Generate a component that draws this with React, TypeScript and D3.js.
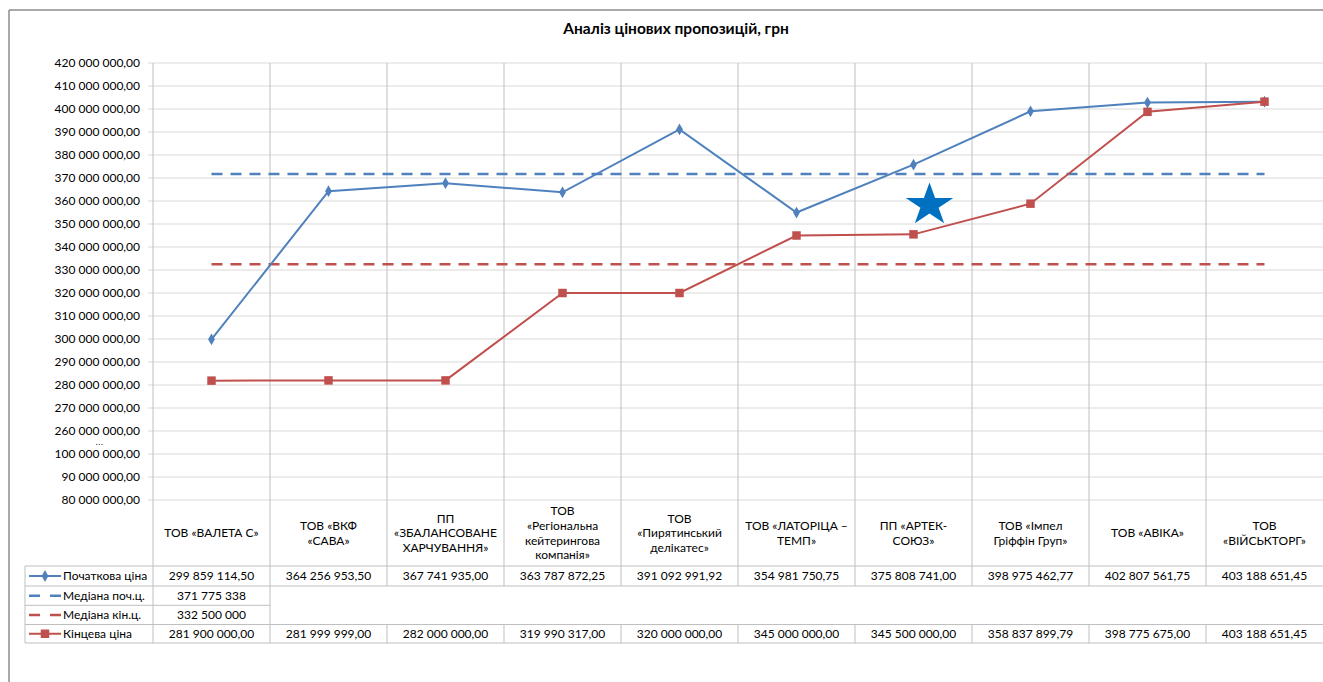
import React from 'react';
import * as d3 from 'd3';

const title = 'Аналіз цінових пропозицій, грн';

const categories: string[][] = [
  ['ТОВ «ВАЛЕТА С»'],
  ['ТОВ «ВКФ', '«САВА»'],
  ['ПП', '«ЗБАЛАНСОВАНЕ', 'ХАРЧУВАННЯ»'],
  ['ТОВ', '«Регіональна', 'кейтерингова', 'компанія»'],
  ['ТОВ', '«Пирятинський', 'делікатес»'],
  ['ТОВ «ЛАТОРІЦА –', 'ТЕМП»'],
  ['ПП «АРТЕК-', 'СОЮЗ»'],
  ['ТОВ «Імпел', 'Гріффін Груп»'],
  ['ТОВ «АВІКА»'],
  ['ТОВ', '«ВІЙСЬКТОРГ»'],
];

const initialPrice = [
  299859114.5, 364256953.5, 367741935.0, 363787872.25, 391092991.92,
  354981750.75, 375808741.0, 398975462.77, 402807561.75, 403188651.45,
];
const finalPrice = [
  281900000.0, 281999999.0, 282000000.0, 319990317.0, 320000000.0,
  345000000.0, 345500000.0, 358837899.79, 398775675.0, 403188651.45,
];
const initialLabels = [
  '299 859 114,50', '364 256 953,50', '367 741 935,00', '363 787 872,25', '391 092 991,92',
  '354 981 750,75', '375 808 741,00', '398 975 462,77', '402 807 561,75', '403 188 651,45',
];
const finalLabels = [
  '281 900 000,00', '281 999 999,00', '282 000 000,00', '319 990 317,00', '320 000 000,00',
  '345 000 000,00', '345 500 000,00', '358 837 899,79', '398 775 675,00', '403 188 651,45',
];

const medianInitial = 371775338;
const medianFinal = 332500000;
const medianInitialLabel = '371 775 338';
const medianFinalLabel = '332 500 000';

// broken axis: the last three rows stand for 100, 90, 80 mln
const yTickValues = [
  420e6, 410e6, 400e6, 390e6, 380e6, 370e6, 360e6, 350e6, 340e6, 330e6,
  320e6, 310e6, 300e6, 290e6, 280e6, 270e6, 260e6, 250e6, 240e6, 230e6,
];
const yTickLabels = [
  '420 000 000,00', '410 000 000,00', '400 000 000,00', '390 000 000,00', '380 000 000,00',
  '370 000 000,00', '360 000 000,00', '350 000 000,00', '340 000 000,00', '330 000 000,00',
  '320 000 000,00', '310 000 000,00', '300 000 000,00', '290 000 000,00', '280 000 000,00',
  '270 000 000,00', '260 000 000,00', '100 000 000,00', '90 000 000,00', '80 000 000,00',
];

const BLUE = '#4F81BD';
const RED = '#C0504D';
const GRID = '#D9D9D9';
const TABLE = '#BFBFBF';
const FONT = 'Lato, "Open Sans", sans-serif';

const App: React.FC = () => {
  const width = 1323;
  const height = 682;
  const left = 153;
  const right = 1323;
  const top = 63;
  const bottom = 500;

  const x = d3
    .scaleBand<number>()
    .domain(d3.range(categories.length))
    .range([left, right])
    .padding(0);
  const cx = (i: number) => (x(i) as number) + x.bandwidth() / 2;
  const y = d3.scaleLinear().domain([230e6, 420e6]).range([bottom, top]);

  const line = d3
    .line<number>()
    .x((_, i) => cx(i))
    .y((d) => y(d));

  const diamond = d3.symbol().type(d3.symbolDiamond).size(40)() as string;
  const square = d3.symbol().type(d3.symbolSquare).size(72)() as string;
  const star = d3.symbol().type(d3.symbolStar).size(700)() as string;

  // table rows
  const catBottom = 566;
  const rowEdges = [566, 586, 605.3, 624.5, 643];
  const rowMid = (r: number) => (rowEdges[r] + rowEdges[r + 1]) / 2;
  const legendLeft = 25;

  const cellX = (i: number) => x(i) as number;

  const legendRows = [
    { label: 'Початкова ціна', color: BLUE, dash: false, marker: diamond },
    { label: 'Медіана поч.ц.', color: BLUE, dash: true, marker: null },
    { label: 'Медіана кін.ц.', color: RED, dash: true, marker: null },
    { label: 'Кінцева ціна', color: RED, dash: false, marker: square },
  ];

  return (
    <svg
      width={width}
      height={height}
      style={{ position: 'absolute', left: 0, top: 0, background: '#fff' }}
      fontFamily={FONT}>
      {/* chart frame */}
      <line x1={9} y1={10} x2={width} y2={10} stroke="#8c8c8c" strokeWidth={1.5} />
      <line x1={9} y1={10} x2={9} y2={height} stroke="#8c8c8c" strokeWidth={1.5} />

      <text x={676} y={34} textAnchor="middle" fontSize={15.5} fontWeight="bold" fill="#000">
        {title}
      </text>

      {/* horizontal grid + y labels */}
      {yTickValues.map((v, i) => (
        <g key={v}>
          <line x1={left - 5} x2={right} y1={y(v)} y2={y(v)} stroke={GRID} strokeWidth={1} />
          <text
            x={140}
            y={y(v)}
            dy="0.35em"
            textAnchor="end"
            fontSize={12}
            fill="#000">
            {yTickLabels[i]}
          </text>
        </g>
      ))}
      <text
        x={100}
        y={444.5}
        textAnchor="middle"
        fontSize={6.5}
        fontWeight="bold"
        letterSpacing={1.2}
        fill="#000">
        ...
      </text>

      {/* vertical grid through category area */}
      {d3.range(1, categories.length).map((i) => (
        <line
          key={i}
          x1={cellX(i)}
          x2={cellX(i)}
          y1={top}
          y2={catBottom}
          stroke={TABLE}
          strokeWidth={1}
        />
      ))}
      <line x1={left} x2={left} y1={top} y2={rowEdges[4]} stroke={TABLE} strokeWidth={1} />

      {/* category labels */}
      {categories.map((lines, i) => {
        const lh = 14.7;
        const y0 = 533 - ((lines.length - 1) * lh) / 2;
        return (
          <text key={i} textAnchor="middle" fontSize={12} fill="#000">
            {lines.map((t, j) => (
              <tspan key={j} x={cx(i)} y={y0 + j * lh} dy="0.35em">
                {t}
              </tspan>
            ))}
          </text>
        );
      })}

      {/* data table */}
      <line x1={legendLeft} x2={right} y1={rowEdges[0]} y2={rowEdges[0]} stroke={TABLE} />
      <line x1={legendLeft} x2={right} y1={rowEdges[1]} y2={rowEdges[1]} stroke={TABLE} />
      <line x1={legendLeft} x2={cellX(1)} y1={rowEdges[2]} y2={rowEdges[2]} stroke={TABLE} />
      <line x1={legendLeft} x2={right} y1={rowEdges[3]} y2={rowEdges[3]} stroke={TABLE} />
      <line x1={legendLeft} x2={right} y1={rowEdges[4]} y2={rowEdges[4]} stroke={TABLE} />
      <line x1={legendLeft} x2={legendLeft} y1={rowEdges[0]} y2={rowEdges[4]} stroke={TABLE} />
      <line x1={cellX(1)} x2={cellX(1)} y1={catBottom} y2={rowEdges[4]} stroke={TABLE} />
      {d3.range(2, categories.length).map((i) => (
        <g key={i}>
          <line x1={cellX(i)} x2={cellX(i)} y1={rowEdges[0]} y2={rowEdges[1]} stroke={TABLE} />
          <line x1={cellX(i)} x2={cellX(i)} y1={rowEdges[3]} y2={rowEdges[4]} stroke={TABLE} />
        </g>
      ))}

      {legendRows.map((r, k) => {
        const ym = rowMid(k);
        return (
          <g key={k}>
            <line
              x1={29}
              x2={61}
              y1={ym}
              y2={ym}
              stroke={r.color}
              strokeWidth={r.dash ? 2.5 : 2}
              strokeDasharray={r.dash ? '11 10' : undefined}
            />
            {r.marker && (
              <path d={r.marker} transform={`translate(45,${ym})`} fill={r.color} />
            )}
            <text x={63} y={ym} dy="0.35em" fontSize={12} fill="#000">
              {r.label}
            </text>
          </g>
        );
      })}

      {initialLabels.map((t, i) => (
        <text key={i} x={cx(i)} y={rowMid(0)} dy="0.35em" textAnchor="middle" fontSize={12} fill="#000">
          {t}
        </text>
      ))}
      <text x={cx(0)} y={rowMid(1)} dy="0.35em" textAnchor="middle" fontSize={12} fill="#000">
        {medianInitialLabel}
      </text>
      <text x={cx(0)} y={rowMid(2)} dy="0.35em" textAnchor="middle" fontSize={12} fill="#000">
        {medianFinalLabel}
      </text>
      {finalLabels.map((t, i) => (
        <text key={i} x={cx(i)} y={rowMid(3)} dy="0.35em" textAnchor="middle" fontSize={12} fill="#000">
          {t}
        </text>
      ))}

      {/* median lines */}
      <line
        x1={cx(0)}
        x2={cx(categories.length - 1)}
        y1={y(medianInitial)}
        y2={y(medianInitial)}
        stroke={BLUE}
        strokeWidth={2.5}
        strokeDasharray="11 8"
      />
      <line
        x1={cx(0)}
        x2={cx(categories.length - 1)}
        y1={y(medianFinal)}
        y2={y(medianFinal)}
        stroke={RED}
        strokeWidth={2.5}
        strokeDasharray="11 8"
      />

      {/* series */}
      <path d={line(initialPrice) as string} fill="none" stroke={BLUE} strokeWidth={2} />
      <path d={line(finalPrice) as string} fill="none" stroke={RED} strokeWidth={2} />
      {initialPrice.map((v, i) => (
        <path key={i} d={diamond} transform={`translate(${cx(i)},${y(v)})`} fill={BLUE} />
      ))}
      {finalPrice.map((v, i) => (
        <path key={i} d={square} transform={`translate(${cx(i)},${y(v)})`} fill={RED} />
      ))}

      {/* star annotation */}
      <path d={star} transform="translate(929.5,205) scale(1,0.9)" fill="#0070C0" />
    </svg>
  );
};

export default App;
